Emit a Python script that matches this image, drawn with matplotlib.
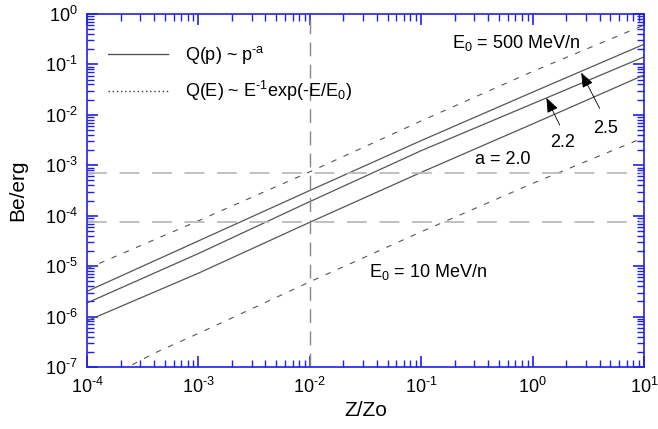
import numpy as np
import matplotlib
matplotlib.use("Agg")
import matplotlib.pyplot as plt
from matplotlib.lines import Line2D
from matplotlib.ticker import LogLocator, NullFormatter, FuncFormatter

plt.rcParams['font.family'] = ['Liberation Sans', 'DejaVu Sans']
plt.rcParams['mathtext.fontset'] = 'custom'
plt.rcParams['mathtext.rm'] = 'Liberation Sans'
plt.rcParams['mathtext.it'] = 'Liberation Sans'
plt.rcParams['mathtext.bf'] = 'Liberation Sans'

# ---- data (log10 values) ----
x_decades = [1e-4, 1e-3, 1e-2, 1e-1, 1e0, 1e1]
a25_log = [-5.50, -4.50, -3.50, -2.51, -1.55, -0.60]
a22_log = [-5.73, -4.75, -3.72, -2.71, -1.78, -0.85]
a20_log = [-6.085, -5.14, -4.13, -3.14, -2.18, -1.21]
e500_log = [-5.05, -4.10, -3.13, -2.12, -1.14, -0.22]
e10_x = [10**-3.70, 10**-3.40, 1e-3, 1e-2, 1e-1, 1e0, 1e1]
e10_log = [-7.08, -6.73, -6.335, -5.311, -4.319, -3.36, -2.45]
h_levels = [7.0e-4, 7.5e-5]
v_level = 1e-2

fig = plt.figure(figsize=(6.58, 4.29), dpi=100)
ax = fig.add_axes([87/658, 1-367/429, (644-87)/658, (367-14)/429])

curve_c = '#555555'
for ylog in (a25_log, a22_log, a20_log):
    ax.plot(x_decades, 10**np.array(ylog), color=curve_c, lw=0.9)
ax.plot(x_decades, 10**np.array(e500_log), color=curve_c, lw=0.8, dashes=(5, 7))
ax.plot(e10_x, 10**np.array(e10_log), color=curve_c, lw=0.8, dashes=(5, 7))

for h in h_levels:
    ax.axhline(h, color='#bbbbbb', lw=1.3, dashes=(11, 7))
ax.axvline(v_level, color='#888888', lw=1.0, dashes=(10, 6))

ax.set_xscale('log')
ax.set_yscale('log')
ax.set_xlim(1e-4, 10)
ax.set_ylim(1e-7, 1)

blue = '#2020ee'
for s in ax.spines.values():
    s.set_color(blue)
    s.set_linewidth(1.2)


def fmt(v, pos):
    e = int(round(np.log10(v)))
    return r'10$^{\text{%d}}$' % e


ax.tick_params(which='both', direction='in', top=True, right=True, color=blue)
ax.tick_params(which='major', length=8, width=1.2, labelsize=13)
ax.tick_params(which='minor', length=5, width=1.0)
ax.tick_params(axis='x', which='major', pad=7)
ax.tick_params(axis='y', which='major', pad=6.5)
for axis in (ax.xaxis, ax.yaxis):
    axis.set_major_locator(LogLocator(base=10, numticks=10))
    axis.set_minor_locator(LogLocator(base=10, subs=np.arange(2, 10), numticks=20))
    axis.set_minor_formatter(NullFormatter())
    axis.set_major_formatter(FuncFormatter(fmt))

ax.set_xlabel('Z/Zo', fontsize=15, labelpad=3)
ax.set_ylabel('Be/erg', fontsize=15, labelpad=13)

# legend
handles = [Line2D([], [], color='#555555', lw=1.0),
           Line2D([], [], color='#333333', lw=1.0, linestyle=(0, (1, 2)))]
labels = [r'Q(p) ~ p$^{\text{-a}}$', r'Q(E) ~ E$^{\text{-1}}$exp(-E/E$_{\rm 0}$)']
ax.legend(handles, labels, loc='upper left', bbox_to_anchor=(0.025, 0.935),
          frameon=False, fontsize=13, handlelength=3.3, handletextpad=0.95,
          labelspacing=0.7, borderaxespad=0)

ax.text(0.189, 0.2115, r'E$_{\rm 0}$ = 500 MeV/n', fontsize=13, va='baseline', ha='left')
ax.text(0.034, 5.97e-6, r'E$_{\rm 0}$ = 10 MeV/n', fontsize=13, va='baseline', ha='left')
ax.text(0.302, 1.04e-3, 'a = 2.0', fontsize=13, va='baseline', ha='left')
ax.text(1.43, 2.26e-3, '2.2', fontsize=13, va='baseline', ha='left')
ax.text(3.48, 4.42e-3, '2.5', fontsize=13, va='baseline', ha='left')

arr = dict(arrowstyle='-|>,head_length=0.9,head_width=0.35', color='black', lw=0.6,
           shrinkA=0, shrinkB=0)
ax.annotate('', xy=(1.33, 0.0218), xytext=(1.75, 0.00628), arrowprops=arr)
ax.annotate('', xy=(2.73, 0.0685), xytext=(4.0, 0.01346), arrowprops=arr)

fig.savefig('out.png', dpi=100)
